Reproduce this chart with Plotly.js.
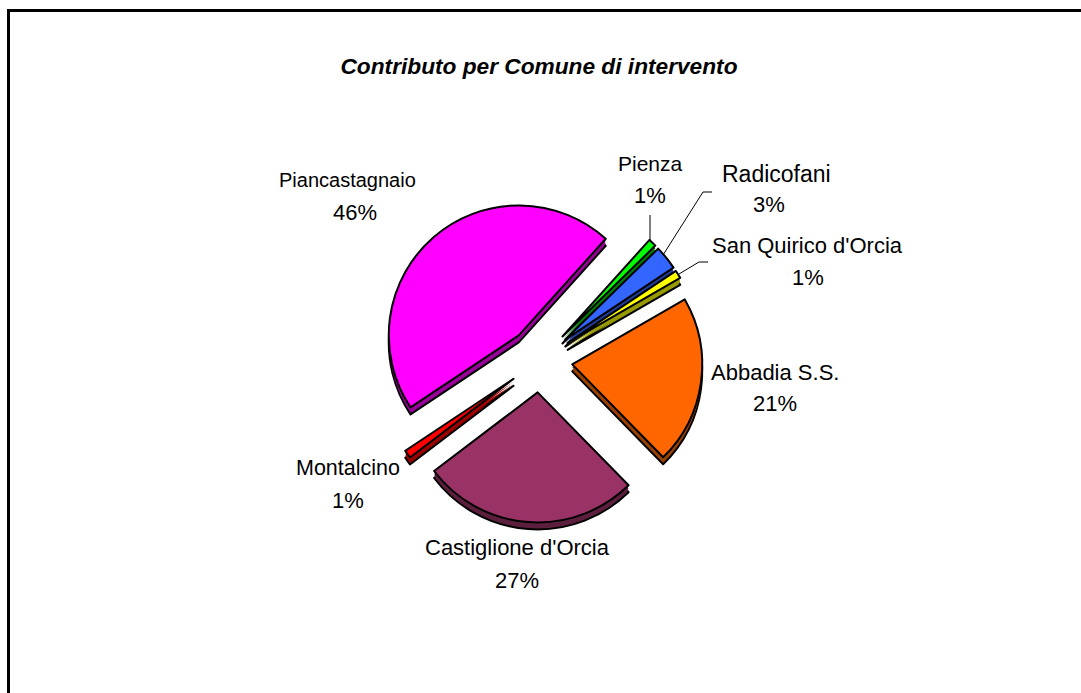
<!DOCTYPE html>
<html><head><meta charset="utf-8">
<script src="https://cdn.plot.ly/plotly-3.0.1.min.js"></script>
<style>html,body{margin:0;padding:0;background:#fff}</style></head>
<body><div id="chart" style="width:1081px;height:693px"></div>
<script>
const categories = ["Pienza","Radicofani","San Quirico d'Orcia","Abbadia S.S.","Castiglione d'Orcia","Montalcino","Piancastagnaio"];
const values = [1,3,1,21,27,1,46];
const percentLabels = ["1%","3%","1%","21%","27%","1%","46%"];
const topColors = ["#00ff00","#3366ff","#ffff00","#ff6600","#993366","#ff0000","#ff00ff"];
const sideColors = ["#008000","#1f3d99","#999900","#994000","#5c1f3d","#990000","#990099"];
const W=1081,H=693,cx=540,cy=360,R=130,pull=0.25,depth=7,rotation=42;
const half=R*(1+pull);
function pie(colors,dy,outline){
  return {type:'pie',labels:categories,values:values,sort:false,direction:'clockwise',rotation:rotation,
    pull:pull,textinfo:'none',hoverinfo:'label+percent',showlegend:false,
    marker:{colors:colors,line:{color:'#000',width:outline?2:0}},
    domain:{x:[(cx-half)/W,(cx+half)/W],y:[1-(cy+dy+half)/H,1-(cy+dy-half)/H]}};
}
const namePos=[[650,163,21],[776,174,23],[807,246,22],[775,372,22],[517,547,22],[348,468,21.5],[347,180,20]];
const percentPos=[[650,195],[769,205],[808,277],[775,404],[517,580],[348,500],[355,212]];
const fontFamily='Liberation Sans, Arial';
function note(text,x,y,size){
  return {xref:'paper',yref:'paper',x:x/W,y:1-y/H,text:text,showarrow:false,xanchor:'center',yanchor:'middle',
    font:{family:fontFamily,size:size,color:'#000'}};
}
const annotations=categories.map((c,i)=>note(c,namePos[i][0],namePos[i][1],namePos[i][2]))
  .concat(percentLabels.map((p,i)=>note(p,percentPos[i][0],percentPos[i][1],22)));
const conn=[[[650,215],[650,240]],[[712,192],[703,192],[663,255]],[[708,262],[699,262],[679,274]]];
const shapes=conn.map(p=>({type:'path',xref:'paper',yref:'paper',
  path:p.map((q,i)=>(i?'L':'M')+(q[0]/W)+','+(1-q[1]/H)).join(' '),line:{color:'#000',width:1}}));
[[8.5,10.5,8.5,693],[7,10.5,1081,10.5]].forEach(s=>shapes.push({type:'line',xref:'paper',yref:'paper',
  x0:s[0]/W,y0:1-s[1]/H,x1:s[2]/W,y1:1-s[3]/H,line:{color:'#000',width:3}}));
Plotly.newPlot('chart',[pie(sideColors,depth,true),pie(sideColors,5,false),pie(sideColors,3,false),pie(sideColors,1,false),pie(topColors,0,true)],{
  width:W,height:H,margin:{l:0,r:0,t:0,b:0},paper_bgcolor:'#fff',
  title:{text:'<b><i>Contributo per Comune di intervento</i></b>',x:539/W,xanchor:'center',y:1-66/H,yanchor:'middle',
    font:{family:fontFamily,size:22.7,color:'#000'}},
  annotations:annotations,shapes:shapes
},{displayModeBar:false});
</script></body></html>
